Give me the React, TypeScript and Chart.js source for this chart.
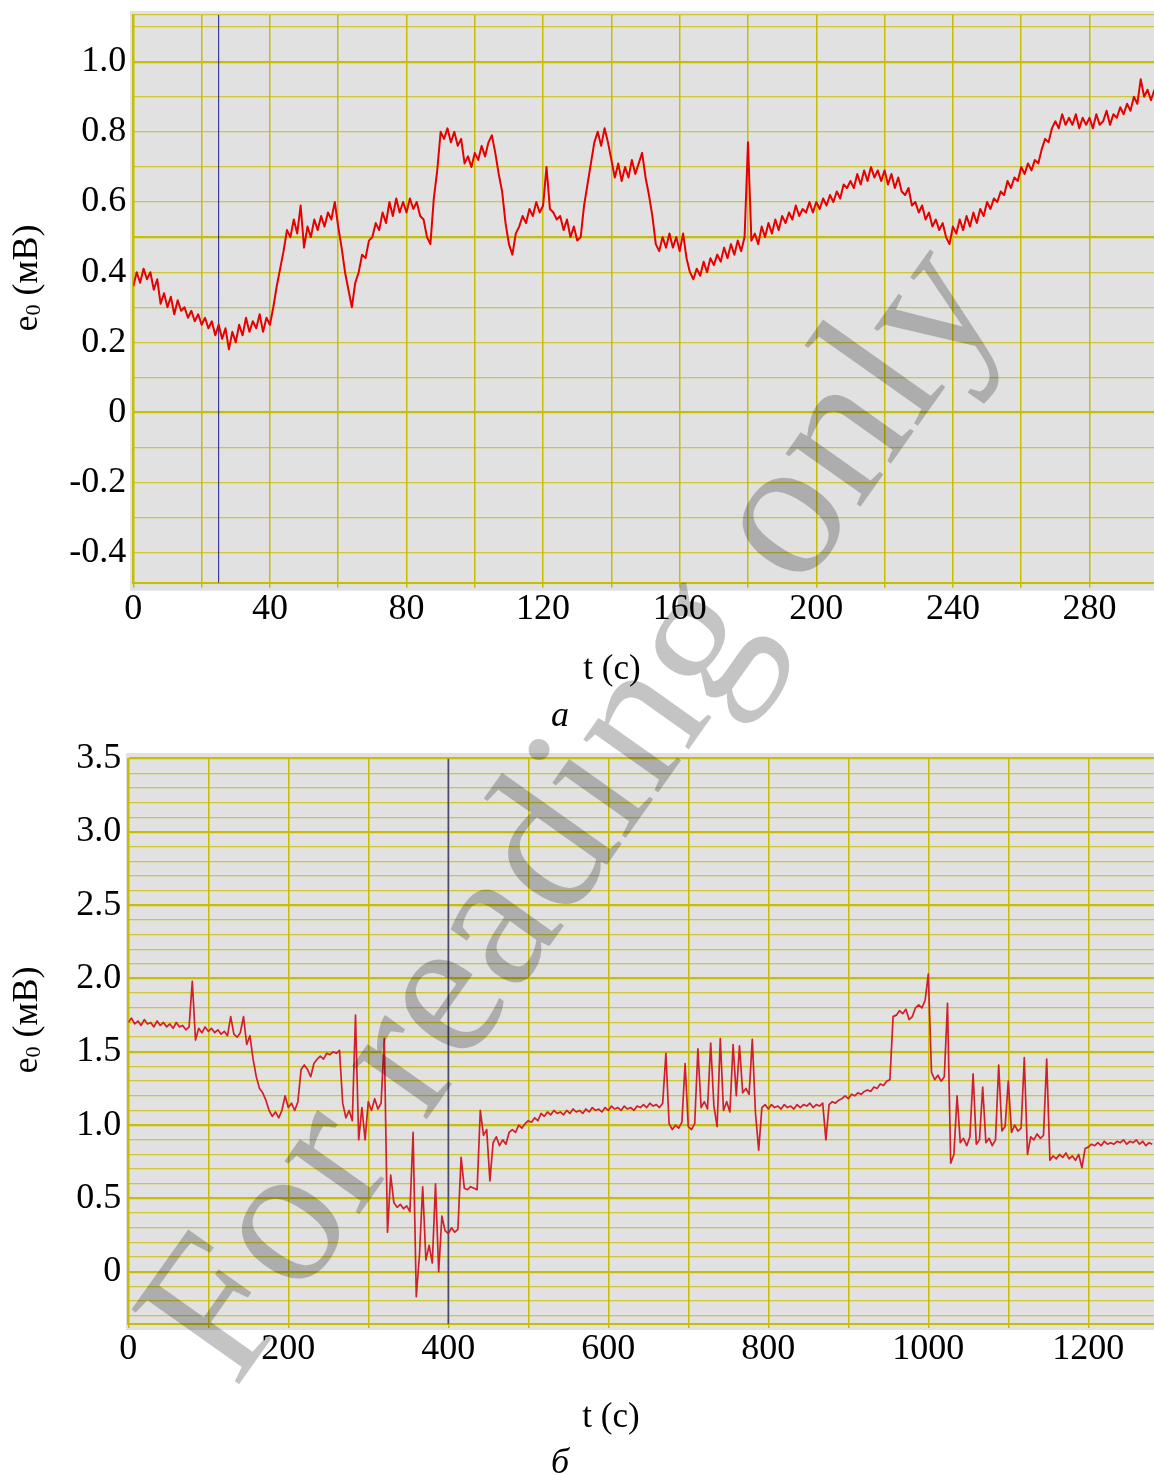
import React, { useEffect, useRef } from "react";
import { Chart, registerables } from "chart.js";

Chart.register(...registerables);

const SERIF = '"Liberation Serif", "Times New Roman", Times, serif';
const CANVAS_W = 1175;
const GRID = "rgb(200,190,0)";
const GRID_MINOR = "rgba(200,190,0,0.78)";
const PANEL_BG = "#e1e1e1";

// ---------- panel (а): e0 over 0–300 s, one reading per second ----------
const topStep = 1;
const topPotential = [
  0.36, 0.40, 0.37, 0.41, 0.38, 0.40, 0.35, 0.38, 0.31, 0.34,
  0.30, 0.33, 0.28, 0.32, 0.29, 0.30, 0.27, 0.29, 0.26, 0.28,
  0.25, 0.27, 0.24, 0.26, 0.22, 0.25, 0.21, 0.24, 0.18, 0.23,
  0.20, 0.25, 0.22, 0.27, 0.23, 0.26, 0.24, 0.28, 0.23, 0.27,
  0.25, 0.30, 0.36, 0.41, 0.46, 0.52, 0.50, 0.55, 0.51, 0.59,
  0.47, 0.53, 0.50, 0.55, 0.52, 0.56, 0.53, 0.57, 0.55, 0.60,
  0.53, 0.47, 0.40, 0.35, 0.30, 0.37, 0.40, 0.45, 0.44, 0.49,
  0.50, 0.54, 0.52, 0.57, 0.54, 0.60, 0.56, 0.61, 0.57, 0.60,
  0.57, 0.61, 0.58, 0.60, 0.56, 0.55, 0.50, 0.48, 0.61, 0.69,
  0.80, 0.78, 0.81, 0.77, 0.80, 0.76, 0.78, 0.71, 0.73, 0.70,
  0.74, 0.72, 0.76, 0.73, 0.77, 0.79, 0.74, 0.68, 0.63, 0.54,
  0.48, 0.45, 0.51, 0.53, 0.56, 0.54, 0.58, 0.56, 0.60, 0.57,
  0.59, 0.70, 0.58, 0.57, 0.55, 0.56, 0.52, 0.55, 0.50, 0.53,
  0.49, 0.50, 0.59, 0.65, 0.71, 0.77, 0.80, 0.76, 0.81, 0.77,
  0.72, 0.67, 0.71, 0.66, 0.70, 0.67, 0.72, 0.68, 0.71, 0.74,
  0.67, 0.62, 0.56, 0.48, 0.46, 0.50, 0.47, 0.51, 0.47, 0.50,
  0.46, 0.51, 0.44, 0.40, 0.38, 0.41, 0.39, 0.43, 0.40, 0.44,
  0.42, 0.45, 0.43, 0.47, 0.44, 0.48, 0.45, 0.49, 0.46, 0.50,
  0.77, 0.49, 0.51, 0.48, 0.53, 0.50, 0.54, 0.51, 0.55, 0.52,
  0.56, 0.54, 0.57, 0.55, 0.59, 0.56, 0.58, 0.57, 0.60, 0.57,
  0.60, 0.58, 0.61, 0.59, 0.62, 0.60, 0.63, 0.61, 0.65, 0.64,
  0.66, 0.64, 0.68, 0.65, 0.69, 0.66, 0.70, 0.67, 0.69, 0.66,
  0.69, 0.65, 0.68, 0.64, 0.67, 0.63, 0.62, 0.64, 0.59, 0.60,
  0.57, 0.59, 0.55, 0.57, 0.53, 0.55, 0.52, 0.54, 0.50, 0.48,
  0.53, 0.51, 0.55, 0.52, 0.56, 0.53, 0.57, 0.54, 0.58, 0.56,
  0.60, 0.58, 0.61, 0.60, 0.63, 0.62, 0.66, 0.64, 0.67, 0.66,
  0.70, 0.68, 0.71, 0.69, 0.72, 0.71, 0.75, 0.78, 0.77, 0.81,
  0.83, 0.81, 0.85, 0.82, 0.84, 0.82, 0.85, 0.81, 0.84, 0.82,
  0.84, 0.81, 0.85, 0.82, 0.83, 0.86, 0.82, 0.85, 0.84, 0.87,
  0.85, 0.88, 0.86, 0.90, 0.88, 0.95, 0.90, 0.92, 0.89, 0.92,
];
const topMarkerTime = 25;
const topXRange = [0, 300];
const topYRange = [-0.485, 1.133];
const topXGrid = [0, 20, 40, 60, 80, 100, 120, 140, 160, 180, 200, 220, 240, 260, 280, 300];
const topXLabels = [0, 40, 80, 120, 160, 200, 240, 280];
const topYGrid = [-0.4, -0.3, -0.2, -0.1, 0, 0.1, 0.2, 0.3, 0.4, 0.5, 0.6, 0.7, 0.8, 0.9, 1.0, 1.1];
const topYLabels = [-0.4, -0.2, 0, 0.2, 0.4, 0.6, 0.8, 1.0];

// ---------- panel (б): e0 over 0–1280 s, one reading every 4 s ----------
const bottomStep = 4;
const bottomPotential = [
  1.70, 1.73, 1.69, 1.71, 1.68, 1.72, 1.69, 1.70, 1.67, 1.71,
  1.68, 1.70, 1.67, 1.69, 1.66, 1.70, 1.67, 1.68, 1.65, 1.67,
  1.98, 1.58, 1.66, 1.63, 1.67, 1.64, 1.66, 1.63, 1.65, 1.62,
  1.64, 1.61, 1.74, 1.62, 1.60, 1.63, 1.74, 1.55, 1.61, 1.45,
  1.33, 1.25, 1.22, 1.17, 1.10, 1.06, 1.09, 1.05, 1.10, 1.20,
  1.12, 1.15, 1.10, 1.16, 1.38, 1.41, 1.38, 1.33, 1.42, 1.45,
  1.47, 1.45, 1.49, 1.48, 1.50, 1.49, 1.51, 1.15, 1.05, 1.10,
  1.03, 1.75, 0.90, 1.12, 0.90, 1.16, 1.10, 1.18, 1.11, 1.15,
  1.59, 0.27, 0.66, 0.47, 0.44, 0.46, 0.43, 0.45, 0.41, 0.95,
  -0.17, 0.12, 0.58, 0.08, 0.18, 0.06, 0.60, 0.00, 0.38, 0.28,
  0.26, 0.30, 0.27, 0.29, 0.78, 0.57, 0.56, 0.58, 0.57, 0.56,
  1.10, 0.93, 0.97, 0.62, 0.88, 0.92, 0.86, 0.90, 0.87, 0.95,
  0.97, 0.95, 1.00, 0.98, 1.01, 1.03, 1.02, 1.05, 1.03, 1.08,
  1.06, 1.09, 1.07, 1.10, 1.08, 1.09, 1.07, 1.10, 1.08, 1.11,
  1.09, 1.10, 1.08, 1.11, 1.09, 1.12, 1.10, 1.11, 1.09, 1.12,
  1.10, 1.13, 1.11, 1.12, 1.10, 1.13, 1.11, 1.12, 1.10, 1.13,
  1.12, 1.14, 1.12, 1.15, 1.13, 1.14, 1.12, 1.15, 1.49, 1.01,
  0.97, 1.00, 0.98, 1.02, 1.42, 0.99, 0.97, 1.01, 1.52, 1.12,
  1.16, 1.11, 1.56, 1.13, 0.99, 1.59, 1.10, 1.16, 1.09, 1.55,
  1.20, 1.54, 1.22, 1.25, 1.21, 1.585, 1.08, 0.83, 1.12, 1.14,
  1.11, 1.14, 1.12, 1.13, 1.11, 1.14, 1.12, 1.13, 1.11, 1.14,
  1.12, 1.14, 1.13, 1.15, 1.12, 1.14, 1.13, 1.15, 0.90, 1.14,
  1.16, 1.15, 1.17, 1.18, 1.20, 1.18, 1.21, 1.20, 1.22, 1.21,
  1.23, 1.24, 1.23, 1.26, 1.25, 1.28, 1.27, 1.30, 1.31, 1.74,
  1.75, 1.78, 1.76, 1.79, 1.72, 1.74, 1.80, 1.82, 1.80, 1.85,
  2.03, 1.36, 1.31, 1.34, 1.30, 1.33, 1.83, 0.74, 0.80, 1.20,
  0.88, 0.91, 0.86, 0.92, 1.35, 0.87, 0.90, 1.26, 0.88, 0.91,
  0.86, 0.90, 1.41, 0.96, 0.99, 1.30, 0.95, 1.00, 0.96, 0.98,
  1.46, 0.80, 0.92, 0.90, 0.94, 0.91, 0.93, 1.45, 0.76, 0.79,
  0.77, 0.80, 0.78, 0.81, 0.77, 0.79, 0.76, 0.80, 0.71, 0.84,
  0.85, 0.87, 0.86, 0.88, 0.86, 0.89, 0.87, 0.88, 0.87, 0.89,
  0.88, 0.90, 0.87, 0.89, 0.88, 0.90, 0.87, 0.89, 0.86, 0.88,
  0.87,
];
const bottomMarkerTime = 400;
const bottomXRange = [0, 1282];
const bottomYRange = [-0.356, 3.5];
const bottomXGrid = [0, 100, 200, 300, 400, 500, 600, 700, 800, 900, 1000, 1100, 1200];
const bottomXLabels = [0, 200, 400, 600, 800, 1000, 1200];
const bottomYGrid = [
  -0.3, -0.2, -0.1, 0, 0.1, 0.2, 0.3, 0.4, 0.5, 0.6, 0.7, 0.8, 0.9, 1.0,
  1.1, 1.2, 1.3, 1.4, 1.5, 1.6, 1.7, 1.8, 1.9, 2.0, 2.1, 2.2, 2.3, 2.4,
  2.5, 2.6, 2.7, 2.8, 2.9, 3.0, 3.1, 3.2, 3.3, 3.4, 3.5,
];
const bottomYLabels = [0, 0.5, 1.0, 1.5, 2.0, 2.5, 3.0, 3.5];

type PanelSpec = {
  step: number;
  values: number[];
  lineColor: string;
  lineWidth: number;
  marker: number;
  markerColor: string;
  markerWidth: number;
  xRange: number[];
  yRange: number[];
  xGrid: number[];
  xLabels: number[];
  yGrid: number[];
  yLabels: number[];
  area: { left: number; top: number; right: number; bottom: number };
  tickLength: number;
  bg: { left: number; top: number; bottom: number };
};

// canvas (а) starts above the page edge so its plot top keeps clear of label padding
const panelA: PanelSpec = {
  step: topStep,
  values: topPotential,
  lineColor: "#e60000",
  lineWidth: 2,
  marker: topMarkerTime,
  markerColor: "#1c1c8a",
  markerWidth: 1,
  xRange: topXRange,
  yRange: topYRange,
  xGrid: topXGrid,
  xLabels: topXLabels,
  yGrid: [...topYGrid, topYRange[1]],
  yLabels: topYLabels,
  area: { left: 133.3, top: 45, right: 1157.8, bottom: 612.7 },
  tickLength: 5,
  bg: { left: 3.3, top: 4, bottom: 8 },
};

const panelB: PanelSpec = {
  step: bottomStep,
  values: bottomPotential,
  lineColor: "#d0202c",
  lineWidth: 1.7,
  marker: bottomMarkerTime,
  markerColor: "#4a4a66",
  markerWidth: 1.6,
  xRange: bottomXRange,
  yRange: bottomYRange,
  xGrid: bottomXGrid,
  xLabels: bottomXLabels,
  yGrid: bottomYGrid,
  yLabels: bottomYLabels,
  area: { left: 128.3, top: 58.5, right: 1153.9, bottom: 624 },
  tickLength: 4,
  bg: { left: 2.3, top: 5.5, bottom: 6 },
};

const near = (list: number[], v: number) => list.some((l) => Math.abs(l - v) < 1e-6);
const isHalfStep = (v: number) => Math.abs(v * 2 - Math.round(v * 2)) < 1e-6;

// grey plotting field, slightly larger than the framed area
const panelBackground = {
  id: "panelBackground",
  beforeDraw(chart: any, _args: any, opts: any) {
    const { ctx, chartArea } = chart;
    ctx.save();
    ctx.fillStyle = PANEL_BG;
    ctx.fillRect(
      chartArea.left - opts.left,
      chartArea.top - opts.top,
      chart.width,
      chartArea.bottom - chartArea.top + opts.top + opts.bottom
    );
    ctx.restore();
  },
};

function buildConfig(p: PanelSpec, height: number): any {
  const font = { family: SERIF, size: 36 };
  return {
    type: "line",
    data: {
      datasets: [
        {
          data: p.values.map((y, i) => ({ x: i * p.step, y })),
          borderColor: p.lineColor,
          borderWidth: p.lineWidth,
          pointRadius: 0,
          borderJoinStyle: "round",
          tension: 0,
        },
        {
          data: [
            { x: p.marker, y: p.yRange[0] },
            { x: p.marker, y: p.yRange[1] },
          ],
          borderColor: p.markerColor,
          borderWidth: p.markerWidth,
          pointRadius: 0,
        },
      ],
    },
    options: {
      responsive: false,
      animation: false,
      events: [],
      layout: {
        autoPadding: false,
        padding: { left: 0, top: p.area.top, right: CANVAS_W - p.area.right, bottom: 0 },
      },
      plugins: {
        legend: { display: false },
        tooltip: { enabled: false },
        panelBackground: p.bg,
      },
      scales: {
        x: {
          type: "linear",
          min: p.xRange[0],
          max: p.xRange[1],
          afterBuildTicks: (s: any) => {
            s.ticks = p.xGrid.map((value) => ({ value }));
          },
          afterFit: (s: any) => {
            s.height = height - p.area.bottom;
          },
          ticks: {
            autoSkip: false,
            maxRotation: 0,
            minRotation: 0,
            padding: 0,
            color: "#000",
            font,
            callback: (v: number) => (near(p.xLabels, v) ? String(v) : ""),
          },
          grid: {
            color: GRID,
            lineWidth: 1.5,
            drawTicks: true,
            tickLength: p.tickLength,
            tickColor: GRID,
          },
          border: { display: true, color: GRID, width: 2 },
        },
        y: {
          type: "linear",
          min: p.yRange[0],
          max: p.yRange[1],
          afterBuildTicks: (s: any) => {
            s.ticks = p.yGrid.map((value) => ({ value }));
          },
          afterFit: (s: any) => {
            s.width = p.area.left;
          },
          ticks: {
            autoSkip: false,
            padding: 7,
            color: "#000",
            font,
            callback: (v: number) =>
              near(p.yLabels, v) ? (Math.abs(v) < 1e-9 ? "0" : v.toFixed(1)) : "",
          },
          grid: {
            drawTicks: false,
            color: (c: any) => (c.tick && isHalfStep(c.tick.value) ? GRID : GRID_MINOR),
            lineWidth: (c: any) => (c.tick && isHalfStep(c.tick.value) ? 2.2 : 1.3),
          },
          border: { display: true, color: GRID, width: 2 },
        },
      },
    },
    plugins: [panelBackground],
  };
}

function Panel({ spec, top, height }: { spec: PanelSpec; top: number; height: number }) {
  const ref = useRef<HTMLCanvasElement>(null);
  useEffect(() => {
    const chart = new Chart(ref.current as HTMLCanvasElement, buildConfig(spec, height));
    return () => chart.destroy();
  }, [spec, height]);
  return (
    <canvas
      ref={ref}
      width={CANVAS_W}
      height={height}
      style={{ position: "absolute", left: 0, top, width: CANVAS_W, height, display: "block" }}
    />
  );
}

function AxisTitleY({ cx, cy }: { cx: number; cy: number }) {
  return (
    <text transform={`translate(${cx},${cy}) rotate(-90)`} textAnchor="middle" fontSize={36}>
      e
      <tspan fontSize={22} dy={3}>
        0
      </tspan>
      <tspan dy={-3}> (мВ)</tspan>
    </text>
  );
}

export default function App() {
  return (
    <div
      style={{
        position: "absolute",
        left: 0,
        top: 0,
        width: 1154,
        height: 1475,
        overflow: "hidden",
        background: "#fff",
      }}
    >
      <Panel spec={panelA} top={-30} height={680} />
      <Panel spec={panelB} top={700} height={700} />
      <svg
        width={1154}
        height={1475}
        style={{ position: "absolute", left: 0, top: 0, pointerEvents: "none" }}
        fontFamily={SERIF}
        fill="#000"
      >
        <AxisTitleY cx={37} cy={278} />
        <text x={612} y={679} textAnchor="middle" fontSize={35}>
          t (с)
        </text>
        <text x={560} y={726} textAnchor="middle" fontSize={36} fontStyle="italic">
          а
        </text>

        <AxisTitleY cx={37} cy={1020} />
        <text x={611} y={1427} textAnchor="middle" fontSize={35}>
          t (с)
        </text>
        <text x={560} y={1473} textAnchor="middle" fontSize={36} fontStyle="italic">
          б
        </text>

        <text
          x={235}
          y={1390}
          transform="rotate(-54.7 235 1390)"
          fontSize={200}
          fill="rgba(0,0,0,0.23)"
        >
          For reading only
        </text>
      </svg>
    </div>
  );
}
